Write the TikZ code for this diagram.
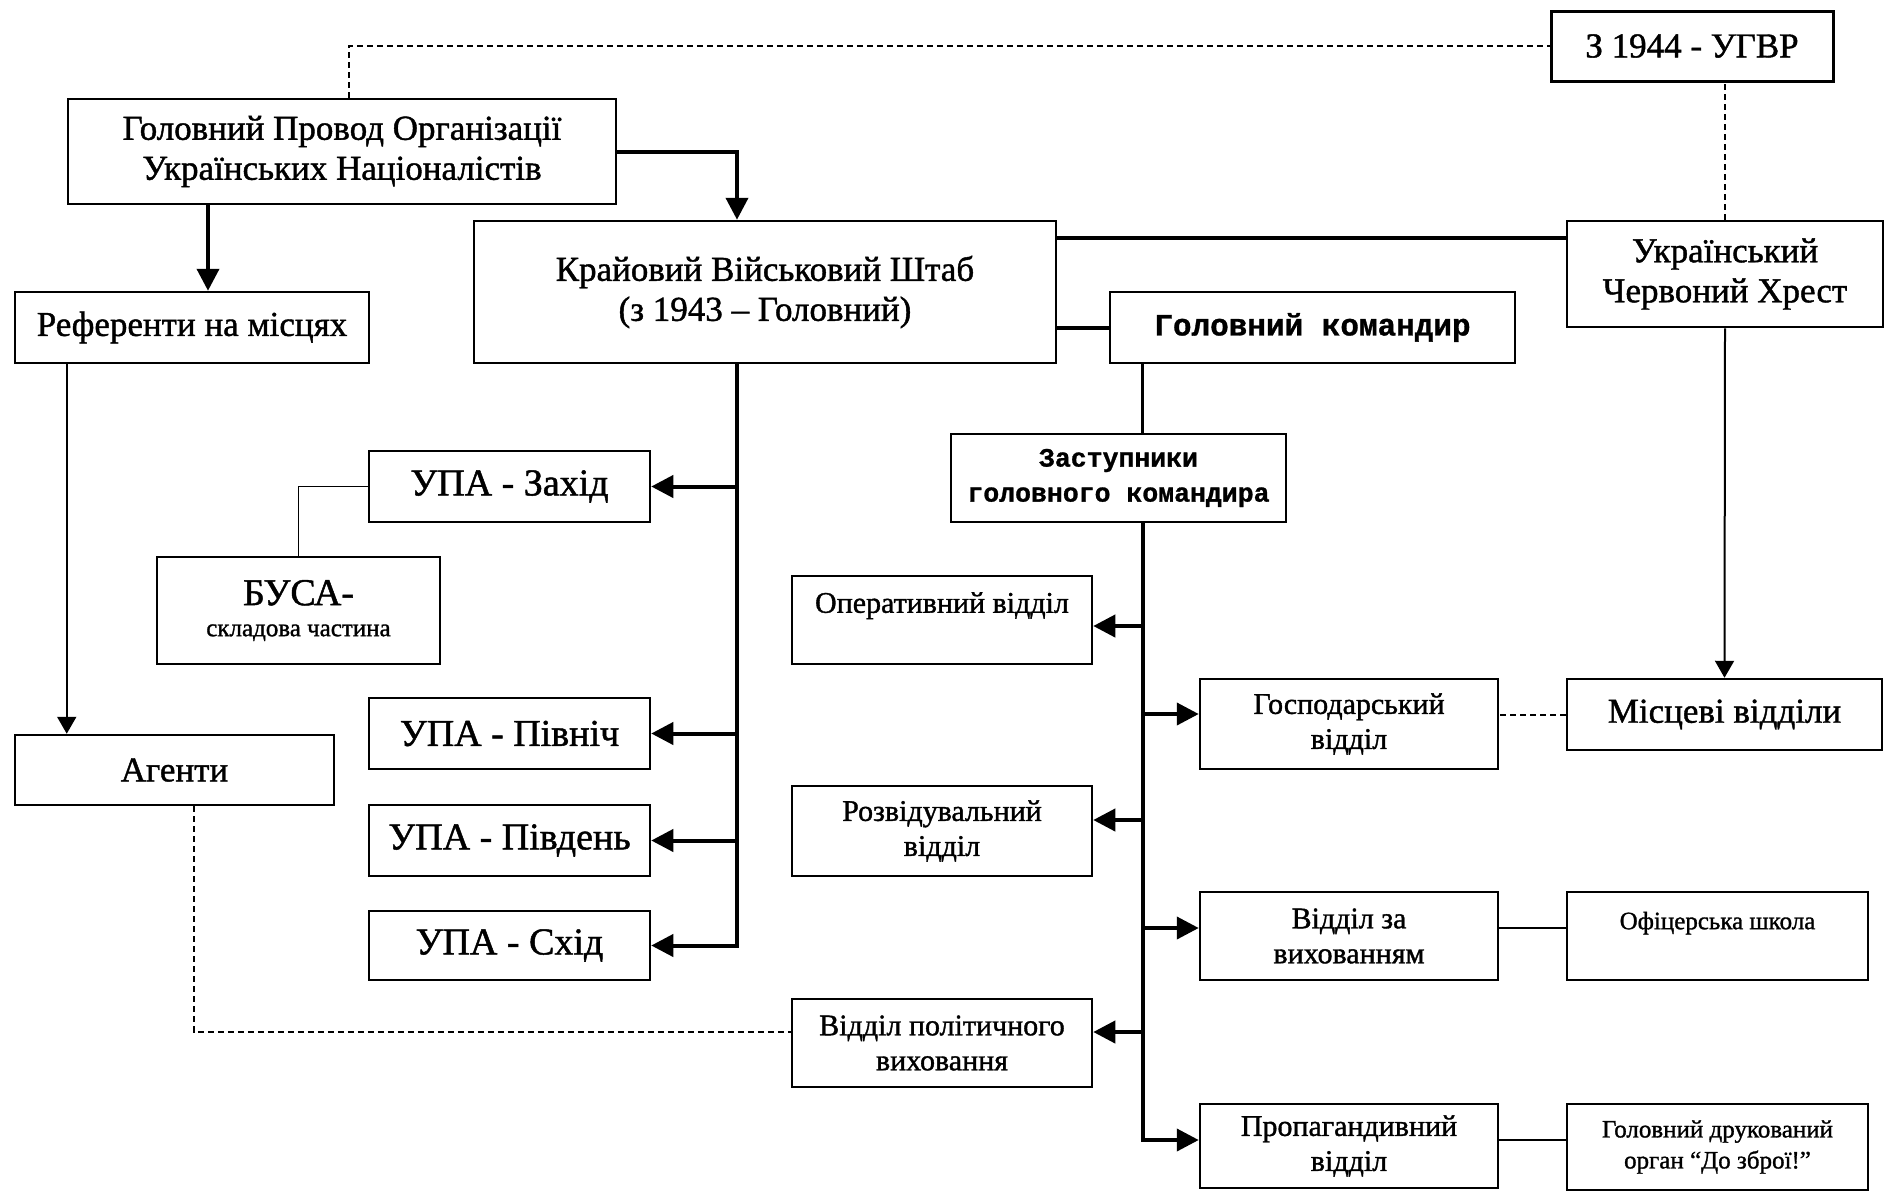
\documentclass[tikz,border=0pt]{standalone}
\usepackage{fontspec}
\setmainfont{Liberation Serif}[FakeBold=1.2]
\newfontfamily\typewriter{Liberation Mono}[FakeBold=1]
\usetikzlibrary{arrows.meta}

\begin{document}
\begin{tikzpicture}[x=1pt, y=-1pt,
        unit/.style={rectangle, draw, line width=2.5pt, fill=white, align=center, inner sep=0pt, font=\fontsize{35}{40}\selectfont},
        upa/.style={unit, font=\fontsize{38}{42}\selectfont},
        dept/.style={unit, font=\fontsize{30}{35}\selectfont},
        small_unit/.style={unit, font=\fontsize{25}{31}\selectfont},
        mono_unit/.style={unit, font=\typewriter\bfseries\fontsize{31}{36}\selectfont},
        mono_small/.style={unit, font=\typewriter\bfseries\fontsize{26.5}{35}\selectfont},
        thick_link/.style={line width=4pt, -{Triangle[length=22pt, width=22pt]}},
        thin_link/.style={line width=2pt, -{Triangle[length=17pt, width=19pt]}},
        plain_link/.style={line width=4pt},
        thin_line/.style={line width=2pt},
        dash_link/.style={line width=2pt, dash pattern=on 6pt off 4pt}
    ]
        \useasboundingbox (0,0) rectangle (1888,1195);

        % Top level
        \node[unit, line width=3pt, minimum width=282pt, minimum height=70pt] (ugvr) at (1692,46) {З 1944 - УГВР};
        \node[unit, minimum width=548pt, minimum height=105pt] (provid) at (342,151.5) {Головний Провод Організації\\Українських Націоналістів};

        % Second level
        \node[unit, minimum width=582pt, minimum height=142pt] (krai_shtab) at (765,292) {Крайовий Військовий Штаб\\(з 1943 – Головний)};
        \node[unit, minimum width=316pt, minimum height=106pt] (chervonyi) at (1725,274) {Український\\Червоний Хрест};
        \node[unit, minimum width=354pt, minimum height=71pt] (referenty) at (192,327.5) {Референти на місцях};
        \node[mono_unit, minimum width=405pt, minimum height=71pt] (komandyr) at (1312.5,327.5) {Головний командир};
        \node[mono_small, minimum width=335pt, minimum height=88pt] (zastupnyky) at (1118.5,478) {Заступники\\головного командира};

        % UPA groups and agents
        \node[upa, minimum width=281pt, minimum height=71pt] (upa_zakhid) at (509.5,486.5) {УПА - Захід};
        \node[small_unit, minimum width=283pt, minimum height=107pt] (busa) at (298.5,610.5) {{\fontsize{38}{42}\selectfont БУСА-}\\складова частина};
        \node[upa, minimum width=281pt, minimum height=71pt] (upa_pivnich) at (509.5,733.5) {УПА - Північ};
        \node[upa, minimum width=281pt, minimum height=71pt] (upa_pivden) at (509.5,840.5) {УПА - Південь};
        \node[upa, minimum width=281pt, minimum height=69pt] (upa_skhid) at (509.5,945.5) {УПА - Схід};
        \node[unit, minimum width=319pt, minimum height=70pt] (agenty) at (174.5,770) {Агенти};

        % Departments
        \node[dept, minimum width=300pt, minimum height=88pt] (operat) at (942,620) {Оперативний відділ\\~};
        \node[dept, minimum width=300pt, minimum height=90pt] (rozvid) at (942,831) {Розвідувальний\\відділ};
        \node[dept, minimum width=300pt, minimum height=88pt] (polit) at (942,1043) {Відділ політичного\\виховання};
        \node[dept, minimum width=298pt, minimum height=90pt] (hosp) at (1349,724) {Господарський\\відділ};
        \node[dept, minimum width=298pt, minimum height=88pt] (vykhov) at (1349,936) {Відділ за\\вихованням};
        \node[dept, minimum width=298pt, minimum height=84pt] (propah) at (1349,1146) {Пропагандивний\\відділ};

        % Right column
        \node[unit, minimum width=315pt, minimum height=71pt] (mistsevi) at (1724.5,714.5) {Місцеві відділи};
        \node[small_unit, minimum width=301pt, minimum height=88pt] (shkola) at (1717.5,936) {Офіцерська школа\\~};
        \node[small_unit, minimum width=301pt, minimum height=86pt] (orhan) at (1717.5,1147) {Головний друкований\\орган “До зброї!”};

        % Trunk points
        \coordinate (krai_trunk) at ([xshift=-28pt]krai_shtab.south);
        \coordinate (zast_trunk) at ([xshift=24pt]zastupnyky.south);

        % Connections
        \draw[dash_link] ([xshift=7pt]provid.north) |- (ugvr.west);
        \draw[dash_link] (chervonyi.north) -- (chervonyi.north |- ugvr.south);
        \draw[thick_link] (provid.east) -| ([xshift=-28pt]krai_shtab.north);
        \draw[thick_link] ([xshift=16pt]referenty.north |- provid.south) -- ([xshift=16pt]referenty.north);
        \draw[thin_link] ([xshift=53pt]referenty.south west) -- ([xshift=53pt]agenty.north west);
        \draw[plain_link] ([yshift=-18pt]krai_shtab.north east) -- ([yshift=-18pt]chervonyi.north west);
        \draw[plain_link] (komandyr.west -| krai_shtab.east) -- (komandyr.west);
        \draw[thin_line, line width=3pt] (komandyr.south -| zast_trunk) -- (zastupnyky.north -| zast_trunk);
        \draw[thin_link] (chervonyi.south) -- (mistsevi.north);

        % UPA branches
        \draw[thick_link] (krai_trunk) |- (upa_skhid.east);
        \foreach \unitname in {upa_zakhid, upa_pivnich, upa_pivden}
            \draw[thick_link] (krai_trunk |- \unitname.east) -- (\unitname.east);
        \draw[thin_line, line width=1.5pt] (upa_zakhid.west) -| (busa.north);

        % Department branches
        \draw[thick_link] (zast_trunk) |- ([yshift=6pt]propah.west);
        \foreach \dep/\shift in {operat/-6, rozvid/11, polit/11}
            \draw[thick_link] ([yshift=\shift pt]\dep.east -| zast_trunk) -- ([yshift=\shift pt]\dep.east);
        \foreach \dep/\shift in {hosp/10, vykhov/8}
            \draw[thick_link] ([yshift=\shift pt]\dep.west -| zast_trunk) -- ([yshift=\shift pt]\dep.west);

        % Side links
        \draw[dash_link] (mistsevi.west) -- (mistsevi.west -| hosp.east);
        \draw[thin_line] ([yshift=8pt]vykhov.east) -- ([yshift=8pt]vykhov.east -| shkola.west);
        \draw[thin_line] ([yshift=6pt]propah.east) -- ([yshift=6pt]propah.east -| orhan.west);
        \draw[dash_link] ([xshift=19pt]agenty.south) |- ([yshift=11pt]polit.west);

    \end{tikzpicture}
\end{document}
